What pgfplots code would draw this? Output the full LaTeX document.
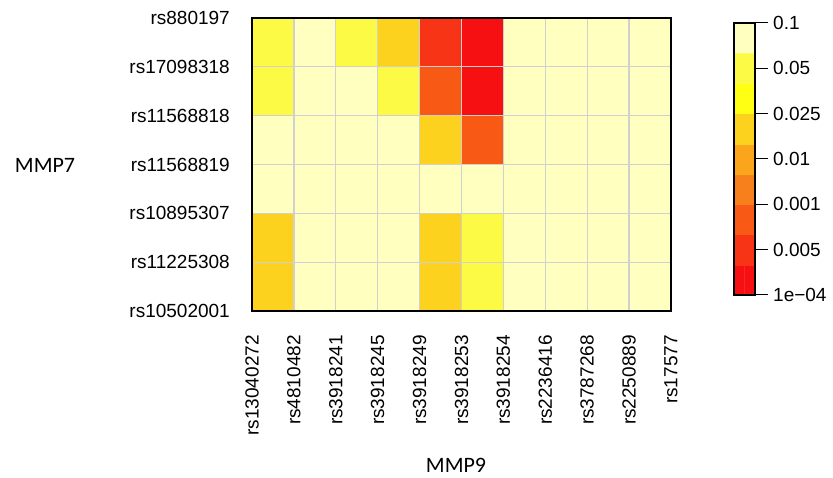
\documentclass[border=0pt]{standalone}
\usepackage{pgfplots}
\pgfplotsset{compat=1.18}
\usepackage{pgfplotstable}
\usepackage{fontspec}
\setmainfont{Liberation Sans}
\newfontfamily\calibri{Carlito}
\pgfplotsset{colormap={heat}{rgb255=(247,16,18) rgb255=(248,52,22) rgb255=(248,90,22) rgb255=(248,128,28) rgb255=(250,165,28) rgb255=(252,210,30) rgb255=(255,255,20) rgb255=(252,250,68) rgb255=(255,255,192)}}
\definecolor{gridgray}{RGB}{208,208,208}
% cell data: x y class (0 = p<1e-04 ... 8 = p>0.05)
\pgfplotstableread{
x y c
0.5 0.5 5
1.5 0.5 8
2.5 0.5 8
3.5 0.5 8
4.5 0.5 5
5.5 0.5 7
6.5 0.5 8
7.5 0.5 8
8.5 0.5 8
9.5 0.5 8
0.5 1.5 5
1.5 1.5 8
2.5 1.5 8
3.5 1.5 8
4.5 1.5 5
5.5 1.5 7
6.5 1.5 8
7.5 1.5 8
8.5 1.5 8
9.5 1.5 8
0.5 2.5 8
1.5 2.5 8
2.5 2.5 8
3.5 2.5 8
4.5 2.5 8
5.5 2.5 8
6.5 2.5 8
7.5 2.5 8
8.5 2.5 8
9.5 2.5 8
0.5 3.5 8
1.5 3.5 8
2.5 3.5 8
3.5 3.5 8
4.5 3.5 5
5.5 3.5 2
6.5 3.5 8
7.5 3.5 8
8.5 3.5 8
9.5 3.5 8
0.5 4.5 7
1.5 4.5 8
2.5 4.5 8
3.5 4.5 7
4.5 4.5 2
5.5 4.5 0
6.5 4.5 8
7.5 4.5 8
8.5 4.5 8
9.5 4.5 8
0.5 5.5 7
1.5 5.5 8
2.5 5.5 7
3.5 5.5 5
4.5 5.5 1
5.5 5.5 0
6.5 5.5 8
7.5 5.5 8
8.5 5.5 8
9.5 5.5 8
}\cells
\pgfplotstableread{
x y c
0.25 0.5 0
0.75 0.5 0
0.25 1.5 1
0.75 1.5 1
0.25 2.5 2
0.75 2.5 2
0.25 3.5 3
0.75 3.5 3
0.25 4.5 4
0.75 4.5 4
0.25 5.5 5
0.75 5.5 5
0.25 6.5 6
0.75 6.5 6
0.25 7.5 7
0.75 7.5 7
0.25 8.5 8
0.75 8.5 8
}\bar
\begin{document}
\begin{tikzpicture}
\useasboundingbox (0,0) rectangle (833pt,478pt);
\begin{axis}[
  at={(252pt,167pt)}, anchor=south west,
  scale only axis, width=419pt, height=293pt,
  xmin=0, xmax=10, ymin=0, ymax=6,
  xtick={0,...,10}, ytick={0,...,6},
  xticklabels={rs13040272,rs4810482,rs3918241,rs3918245,rs3918249,rs3918253,rs3918254,rs2236416,rs3787268,rs2250889,rs17577},
  yticklabels={rs10502001,rs11225308,rs10895307,rs11568819,rs11568818,rs17098318,rs880197},
  major tick length=0pt,
  tick label style={font=\fontsize{19}{22}\selectfont},
  xticklabel style={rotate=90, anchor=east, inner sep=0pt},
  xticklabel shift=24pt,
  yticklabel style={anchor=east, inner sep=0pt},
  yticklabel shift=22pt,
  grid=major, grid style={color=gridgray, line width=1.3pt},
  axis on top,
  axis line style={line width=1.2pt, black},
  colormap name=heat, point meta min=0, point meta max=8,
  xlabel={MMP9}, ylabel={MMP7},
  label style={font=\calibri\fontsize{22}{26}\selectfont},
  xlabel style={at={(axis description cs:0.487,-0.527)}, anchor=center},
  ylabel style={at={(axis description cs:-0.494,0.498)}, anchor=center, rotate=-90},
]
\addplot[matrix plot*, mesh/cols=10, point meta=explicit, draw=none] table[x=x, y=y, meta=c] {\cells};
\end{axis}
\begin{axis}[
  at={(734pt,183pt)}, anchor=south west,
  scale only axis, width=21pt, height=272pt,
  xmin=0, xmax=1, ymin=0, ymax=9,
  xtick=\empty,
  ytick={0,1.5,3,4.5,6,7.5,9},
  yticklabels={1e\textminus 04,0.005,0.001,0.01,0.025,0.05,0.1},
  ytick pos=right, yticklabel pos=right,
  tick align=outside, major tick length=13pt,
  tick style={black, line width=1pt},
  tick label style={font=\fontsize{19}{22}\selectfont},
  yticklabel style={anchor=west, inner sep=0pt},
  yticklabel shift=5pt,
  axis line style={line width=1.2pt, black},
  axis on top,
  colormap name=heat, point meta min=0, point meta max=8,
]
\addplot[matrix plot*, mesh/cols=2, point meta=explicit, draw=none] table[x=x, y=y, meta=c] {\bar};
\end{axis}
\end{tikzpicture}
\end{document}
